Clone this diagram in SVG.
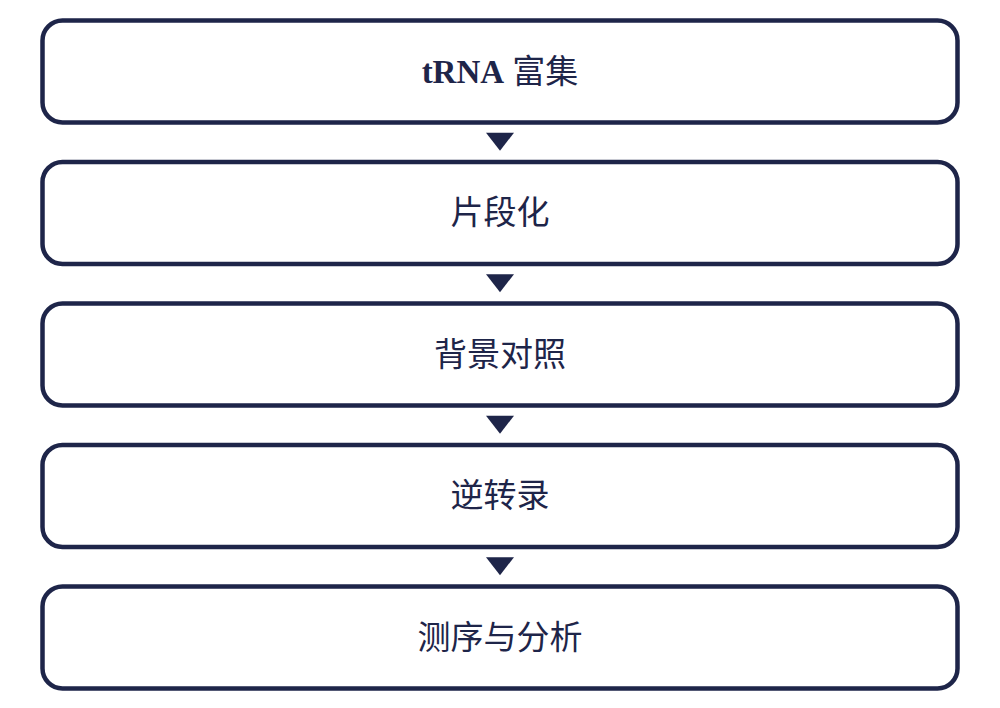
<svg xmlns="http://www.w3.org/2000/svg" width="1000" height="708" viewBox="0 0 1000 708">
<style>
.box{fill:#ffffff;stroke:#1e2549;stroke-width:4.5}
.lbl{font-family:"Liberation Serif","Noto Sans CJK SC",serif;font-size:33px;fill:#1e2549;text-anchor:middle;dominant-baseline:central}
.arr{fill:#1e2549}
</style>
<rect width="1000" height="708" fill="#ffffff"/>
<g id="node1"><rect class="box" x="42.5" y="20.5" width="915" height="102" rx="20"/><text class="lbl" x="500" y="71.5"><tspan font-weight="bold">tRNA</tspan> 富集</text></g>
<g id="node2"><rect class="box" x="42.5" y="162" width="915" height="102" rx="20"/><text class="lbl" x="500" y="213">片段化</text></g>
<g id="node3"><rect class="box" x="42.5" y="303.5" width="915" height="102" rx="20"/><text class="lbl" x="500" y="354.5">背景对照</text></g>
<g id="node4"><rect class="box" x="42.5" y="445" width="915" height="102" rx="20"/><text class="lbl" x="500" y="496">逆转录</text></g>
<g id="node5"><rect class="box" x="42.5" y="586.5" width="915" height="102" rx="20"/><text class="lbl" x="500" y="637.5">测序与分析</text></g>
<g id="connectors">
<polygon class="arr" points="486,132.7 514,132.7 500,150.7"/>
<polygon class="arr" points="486,274.2 514,274.2 500,292.2"/>
<polygon class="arr" points="486,415.7 514,415.7 500,433.7"/>
<polygon class="arr" points="486,557.2 514,557.2 500,575.2"/>
</g>
</svg>
